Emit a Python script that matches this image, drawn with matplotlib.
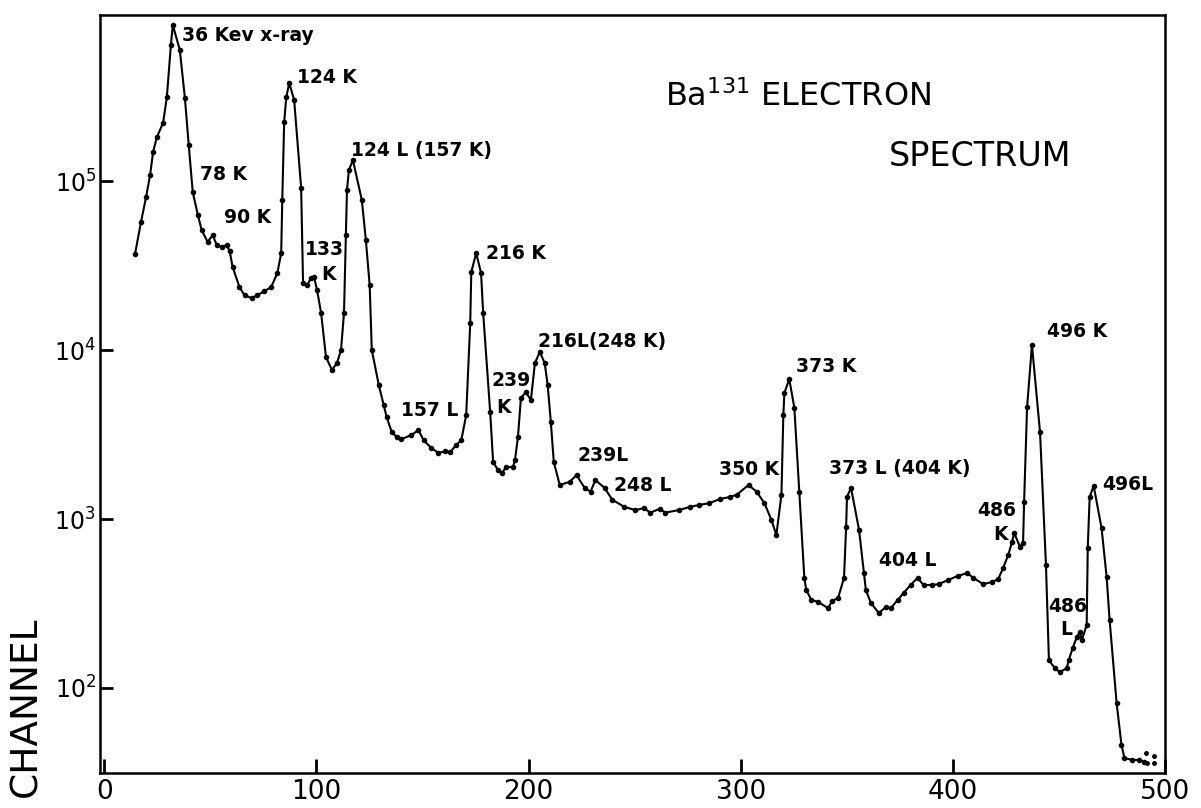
import matplotlib
matplotlib.use("Agg")
import matplotlib.pyplot as plt

# channel number and counts per channel
channel = [14.5, 17.3, 19.7, 21.6, 23.0, 24.8, 27.7, 29.5, 31.4, 32.3,
           35.6, 38.0, 39.8, 41.7, 44.1, 45.9, 48.7, 51.1, 53.0, 55.3,
           57.7, 59.1, 60.5, 63.7, 66.1, 69.4, 72.2, 75.5, 78.7, 81.6,
           83.4, 83.9, 84.8, 85.8, 87.2, 89.5, 92.8, 93.7, 95.6, 97.5,
           98.9, 100.3, 102.2, 104.5, 107.3, 109.7, 111.6, 113.0, 113.9, 114.4,
           115.3, 117.2, 121.4, 123.3, 125.1, 126.1, 129.4, 131.7, 133.1, 135.5,
           137.8, 140.1, 144.8, 148.1, 150.5, 154.2, 157.5, 160.8, 163.1, 165.9,
           168.3, 170.6, 172.5, 173.0, 175.3, 177.6, 178.6, 181.9, 183.3, 185.6,
           187.5, 189.4, 192.6, 193.6, 195.0, 196.4, 198.7, 201.1, 203.0, 205.3,
           207.6, 209.0, 210.5, 211.9, 214.7, 219.4, 222.6, 226.4, 229.2, 231.5,
           235.8, 239.5, 245.1, 250.3, 254.5, 257.3, 262.0, 264.4, 270.9, 276.1,
           280.3, 285.0, 290.1, 294.8, 298.1, 303.7, 307.5, 311.2, 314.5, 316.8,
           319.2, 320.1, 320.6, 322.9, 325.3, 327.6, 330.0, 330.9, 333.3, 336.5,
           341.2, 343.1, 345.9, 348.7, 349.7, 350.1, 352.0, 355.8, 358.1, 359.0,
           361.4, 365.1, 368.4, 370.8, 374.0, 376.8, 380.1, 383.4, 386.2, 390.4,
           393.3, 397.9, 402.2, 406.8, 409.7, 414.3, 418.6, 421.4, 423.7, 426.1,
           427.9, 428.9, 431.7, 433.1, 433.6, 435.0, 437.3, 441.1, 443.9, 445.3,
           448.1, 450.4, 453.7, 454.6, 456.5, 458.4, 459.8, 460.8, 463.1, 463.6,
           464.5, 466.4, 470.1, 472.5, 473.9, 477.2, 479.5, 480.9, 484.6, 487.9,
           490.3]
counts = [37000, 57200, 80400, 108600, 148500, 182000, 220300, 314000, 638000, 838000,
          596000, 310000, 163300, 86100, 63000, 51300, 43600, 47900, 41800, 40700,
          41800, 38500, 31000, 23600, 21100, 20300, 21100, 22300, 23600, 28600,
          37500, 77200, 223500, 314000, 380000, 301500, 90900, 24900, 24200, 26700,
          27000, 22600, 16600, 9100, 7620, 8380, 10000, 16600, 47900, 88500,
          116000, 133000, 77200, 44800, 24200, 10000, 6210, 4730, 4010, 3270,
          3060, 2970, 3140, 3360, 2930, 2630, 2460, 2520, 2490, 2740,
          2930, 4120, 14400, 28900, 37500, 28600, 16600, 4300, 2170, 1950,
          1870, 2030, 2030, 2230, 3060, 5200, 5640, 5060, 8380, 9730,
          8380, 6210, 3750, 2170, 1590, 1660, 1820, 1530, 1450, 1700,
          1530, 1300, 1180, 1130, 1160, 1090, 1150, 1090, 1130, 1180,
          1210, 1240, 1310, 1350, 1390, 1590, 1450, 1240, 986, 804,
          1390, 4120, 5570, 6730, 4540, 1450, 448, 380, 332, 323,
          297, 327, 341, 448, 897, 1350, 1530, 861, 479, 380,
          318, 278, 301, 297, 332, 365, 407, 448, 407, 407,
          412, 436, 460, 479, 448, 412, 424, 441, 513, 612,
          731, 826, 683, 721, 1260, 4600, 10700, 3270, 534, 146,
          131, 124, 131, 146, 172, 200, 214, 192, 236, 673,
          1350, 1570, 885, 454, 253, 81.6, 46, 38.5, 37.5, 37.5,
          36.5]

# loose points at the end of the run
tail_channel = [491.2, 494.9, 494.9, 491.6]
tail_counts = [41.2, 39.5, 36.0, 36.0]

# peak labels: text, channel, counts
labels = ["36 Kev x-ray", "124 K", "78 K", "90 K", "133", "K", "124 L (157 K)",
          "216 K", "157 L", "239", "K", "216L(248 K)", "239L", "248 L", "350 K",
          "373 K", "373 L (404 K)", "404 L", "486", "K", "496 K", "496L", "486", "L"]
label_x = [36.6, 90.9, 45.0, 56.2, 94.7, 102.2, 116.2,
           180.0, 139.7, 182.3, 184.7, 204.4, 223.1, 240.4, 289.7,
           326.2, 341.7, 365.1, 411.5, 419.0, 444.3, 470.6, 444.8, 450.4]
label_y = [7.3e5, 4.12e5, 1.10e5, 6.12e4, 3.96e4, 2.78e4, 1.52e5,
           3.75e4, 4410, 6560, 4600, 11300, 2360, 1570, 1950,
           8040, 2000, 572, 1130, 815, 12800, 1610, 305, 223]

yticks = [1e2, 1e3, 1e4, 1e5]
ytick_labels = [r"$10^{2}$", r"$10^{3}$", r"$10^{4}$", r"$10^{5}$"]
xticks = [0, 100, 200, 300, 400, 500]

fig = plt.figure(figsize=(12.01, 8.08), dpi=100)
ax = fig.add_axes([0.0833, 0.0433, 0.8867, 0.9381])

ax.plot(channel, counts, color="black", lw=1.5, marker="o", ms=3)
ax.plot(tail_channel, tail_counts, ls="none", color="black", marker="o", ms=2.5)

ax.set_yscale("log")
ax.set_xlim(-2, 498)
ax.set_ylim(31.4, 9.6e5)

ax.set_yticks(yticks)
ax.set_yticklabels(ytick_labels)
ax.set_xticks(xticks)
ax.minorticks_off()
ax.tick_params(axis="both", direction="in", width=2)
ax.tick_params(axis="y", length=9, pad=3, labelsize=17)
ax.tick_params(axis="x", length=10, pad=4, labelsize=19)
for s in ax.spines.values():
    s.set_linewidth(1.8)

for txt, x, y in zip(labels, label_x, label_y):
    ax.text(x, y, txt, fontsize=13.5, fontweight="bold", ha="left", va="center")

ax.text(264.4, 3.14e5, r"Ba$^{131}$ ELECTRON", fontsize=23, ha="left", va="center")
ax.text(369.8, 1.39e5, "SPECTRUM", fontsize=24, ha="left", va="center")

fig.text(26 / 1201, 1 - 707 / 808, "CHANNEL", rotation=90, fontsize=27,
         ha="center", va="center")

fig.savefig("out.png", dpi=100)
